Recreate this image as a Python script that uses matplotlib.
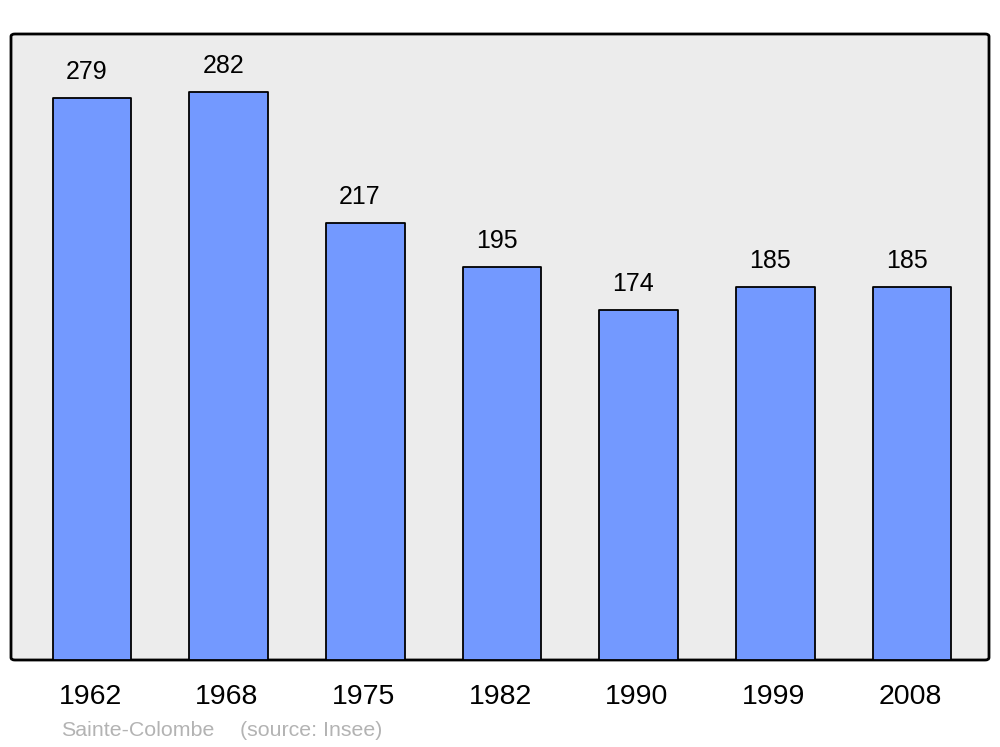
import matplotlib.pyplot as plt
from matplotlib.patches import FancyBboxPatch
from matplotlib.transforms import ScaledTranslation

plt.rcParams['font.family'] = ['Liberation Sans', 'DejaVu Sans']

#data
years = ['1962', '1968', '1975', '1982', '1990', '1999', '2008']
population = [279, 282, 217, 195, 174, 185, 185]

bar_color = '#7399ff'
bg_color = '#ececec'

fig = plt.figure(figsize=(10, 7.47), dpi=100)
ax = fig.add_axes([0.011, 87/747, 0.978, 626/747])
ax.set_facecolor('none')

#rounded grey frame behind the bars
frame = FancyBboxPatch((0, 0), 1, 1, boxstyle='round,pad=0,rounding_size=0.004',
                       transform=ax.transAxes, facecolor=bg_color, edgecolor='black',
                       linewidth=2, zorder=0, clip_on=False)
ax.add_patch(frame)

x = range(len(years))
bars = ax.bar(x, population, width=0.575, color=bar_color, edgecolor='black',
              linewidth=1.3, zorder=2)
for b in bars:
    b.set_joinstyle('round')

for xi, v in zip(x, population):
    ax.annotate(str(v), xy=(xi, v), xytext=(-4, 10), textcoords='offset points',
                ha='center', va='bottom', fontsize=18)

ax.set_xlim(-0.593, 6.563)
ax.set_ylim(0, 310.8)
for s in ax.spines.values():
    s.set_visible(False)
ax.set_yticks([])
ax.set_xticks(list(x))
ax.set_xticklabels(years, fontsize=20.5)
ax.tick_params(axis='x', length=0, pad=17.5)
shift = ScaledTranslation(-2/100, 0, fig.dpi_scale_trans)
for lab in ax.get_xticklabels():
    lab.set_transform(lab.get_transform() + shift)

fig.text(0.061, 1 - 731/747, 'Sainte-Colombe', color='#b3b3b3', fontsize=15.4, va='center')
fig.text(0.240, 1 - 731/747, '(source: Insee)', color='#b3b3b3', fontsize=15.4, va='center')

fig.savefig('out.png', dpi=100)
